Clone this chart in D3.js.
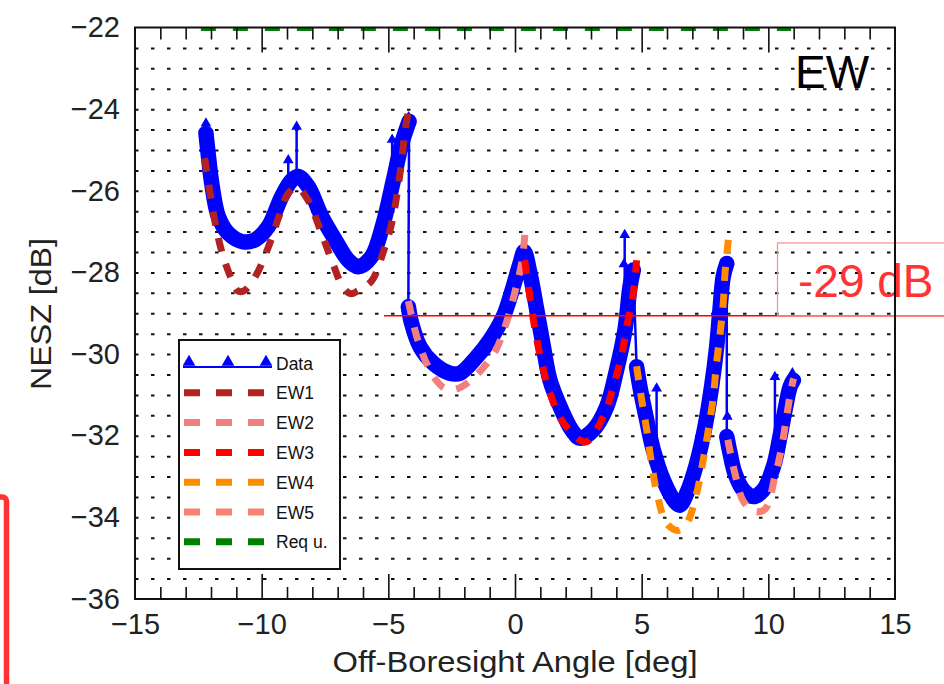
<!DOCTYPE html>
<html>
<head>
<meta charset="utf-8">
<script src="https://cdn.jsdelivr.net/npm/d3@7"></script>
<style>
  body { margin: 0; background: #fff; }
  text { font-family: "Liberation Sans", Arial, Helvetica, sans-serif; }
</style>
</head>
<body>
<div id="chart"></div>
<script>
var width = 944;
var height = 684;

// blue measured data: the thick band, one list per beam
var dataSeg1 = [[-12.2,-24.59],[-12.1,-25.16],[-11.97,-25.82],[-11.71,-26.63],[-11.32,-27.04],[-10.72,-27.25],
  [-10.26,-27.2],[-9.74,-26.88],[-9.21,-26.14],[-8.81,-25.74],[-8.55,-25.65],[-8.16,-25.9],[-7.63,-26.63],
  [-7.1,-27.2],[-6.58,-27.7],[-6.18,-27.86],[-5.66,-27.61],[-5.2,-26.8],[-4.8,-25.74],[-4.47,-24.84],[-4.18,-24.3]];
var dataSeg2 = [[-4.21,-28.84],[-4.08,-29.25],[-3.75,-29.82],[-3.22,-30.23],[-2.57,-30.47],[-2.17,-30.47],
  [-1.51,-30.07],[-0.99,-29.66],[-0.46,-29.08],[-0.07,-28.35],[0.2,-27.78],[0.36,-27.49],[0.59,-28.02],
  [0.86,-28.92],[1.12,-29.82],[1.38,-30.64],[1.78,-31.29],[2.24,-31.86],[2.57,-32.06],[3.09,-31.86],
  [3.62,-31.29],[4.01,-30.39],[4.34,-29.41],[4.54,-28.35],[4.67,-27.94]];
var dataSeg3 = [[4.8,-30.31],[4.93,-30.8],[5.2,-31.62],[5.46,-32.35],[5.86,-33.09],[6.32,-33.62],[6.51,-33.7],
  [6.78,-33.41],[7.17,-32.68],[7.5,-31.78],[7.76,-30.8],[7.96,-29.82],[8.09,-28.92],[8.22,-28.1],[8.36,-27.78]];
var dataSeg4 = [[8.36,-32.02],[8.49,-32.43],[8.68,-32.92],[9.01,-33.33],[9.41,-33.49],[9.8,-33.33],[10.2,-32.76],
  [10.46,-32.02],[10.66,-31.37],[10.86,-30.8],[10.99,-30.64]];
// outlier spikes: angle, foot, top
var dataSpikes = [[-12.2,-24.6,-24.35],[-8.95,-25.85,-25.25],[-8.62,-25.65,-24.43],[-4.85,-25.6,-24.75],
  [4.33,-29.3,-27.08],[5.59,-32.7,-30.84],[10.26,-32.9,-30.56],[10.95,-30.7,-30.47]];
var dataExtraMarks = [[4.3,-27.8],[8.38,-31.53],[-4.2,-24.2]];

// model curves
var ew1 = [[-12.25,-25.2],[-12.0,-26.2],[-11.75,-27.05],[-11.5,-27.65],[-11.2,-28.15],[-10.95,-28.45],[-10.7,-28.45],
  [-10.25,-28.1],[-9.75,-27.4],[-9.3,-26.6],[-8.95,-26.06],[-8.6,-25.92],[-8.2,-26.2],[-7.6,-27.1],[-7.15,-27.85],
  [-6.8,-28.35],[-6.5,-28.52],[-6.2,-28.45],[-5.65,-28.2],[-5.2,-27.5],[-4.85,-26.75],[-4.65,-26.05],
  [-4.47,-25.25],[-4.33,-24.5],[-4.15,-23.85]];
var ew2 = [[-4.21,-28.7],[-3.88,-29.57],[-3.49,-30.23],[-3.1,-30.65],[-2.76,-30.84],[-2.3,-30.85],[-1.58,-30.55],
  [-0.79,-29.94],[-0.33,-29.21],[0.0,-28.47],[0.26,-27.78],[0.39,-27.08]];
var ew3 = [[0.38,-27.7],[0.59,-28.6],[0.79,-29.4],[1.05,-30.2],[1.38,-30.95],[1.84,-31.62],[2.57,-32.11],
  [2.83,-32.15],[3.49,-31.53],[3.88,-30.8],[4.21,-30.02],[4.41,-29.33],[4.67,-28.51],[4.8,-27.7]];
var ew4 = [[4.8,-30.3],[5.0,-31.12],[5.2,-31.86],[5.39,-32.68],[5.59,-33.37],[5.99,-34.15],[6.45,-34.32],
  [6.78,-34.15],[7.17,-33.41],[7.43,-32.6],[7.63,-31.86],[7.83,-31.04],[7.94,-30.31],[8.09,-29.53],
  [8.22,-28.76],[8.29,-28.02],[8.42,-27.2]];
var ew5 = [[8.4,-32.1],[8.68,-32.92],[9.01,-33.6],[9.45,-33.85],[9.87,-33.8],[10.26,-33.0],[10.53,-32.27],
  [10.72,-31.53],[10.92,-30.8],[11.0,-30.6]];
var requ = [[-12.4,-22],[10.9,-22]];

var xTicks = [-15,-10,-5,0,5,10,15];
var yTicks = [-36,-34,-32,-30,-28,-26,-24,-22];
var seriesNames = ["Data","EW1","EW2","EW3","EW4","EW5","Req u."];
var seriesColors = ["#0000ff","#b22222","#f08080","#ff0000","#ff8c00","#fa8072","#008000"];
var limitValue = -29;

// Axis setup
var xScale = d3.scaleLinear().domain([-15, 15]).range([135, 895]);
var yScale = d3.scaleLinear().domain([-36, -22]).range([599, 27.5]);

var svg = d3.select("#chart")
  .append("svg")
  .attr("width", width)
  .attr("height", height);

svg.append("clipPath").attr("id", "plotclip")
  .append("rect")
  .attr("x", 135).attr("y", 27.5)
  .attr("width", 760).attr("height", 571.5);

// dotted horizontal grid every 0.5 dB
svg.append("g")
  .attr("transform", "translate(135,0)")
  .call(d3.axisRight(yScale).tickValues(d3.range(-35.5, -22.4, 0.5)).tickSize(760).tickFormat(""))
  .call(function(g) {
    g.select(".domain").remove();
    g.selectAll("line")
      .attr("stroke", "#111")
      .attr("stroke-width", 2)
      .attr("stroke-dasharray", "3.5,12.5");
  });

var line = d3.line()
  .x(function(d) { return xScale(d[0]); })
  .y(function(d) { return yScale(d[1]); });
var smooth = d3.line()
  .curve(d3.curveCatmullRom)
  .x(function(d) { return xScale(d[0]); })
  .y(function(d) { return yScale(d[1]); });

var plot = svg.append("g").attr("clip-path", "url(#plotclip)");

// requirement at -22 dB
plot.append("path")
  .attr("d", line(requ))
  .attr("fill", "none")
  .attr("stroke", seriesColors[6])
  .attr("stroke-width", 7)
  .attr("stroke-dasharray", "15,17");

// data: thin connecting line then thick band
var segs = [dataSeg1, dataSeg2, dataSeg3, dataSeg4];
plot.append("path")
  .attr("d", line([].concat(dataSeg1, dataSeg2, dataSeg3, dataSeg4)))
  .attr("fill", "none")
  .attr("stroke", seriesColors[0])
  .attr("stroke-width", 2.5);

plot.selectAll(".band")
  .data(segs)
  .enter()
  .append("path")
  .attr("class", "band")
  .attr("d", smooth)
  .attr("fill", "none")
  .attr("stroke", seriesColors[0])
  .attr("stroke-width", 15.5)
  .attr("stroke-linejoin", "round")
  .attr("stroke-linecap", "round");

plot.selectAll(".spike")
  .data(dataSpikes)
  .enter()
  .append("line")
  .attr("class", "spike")
  .attr("x1", function(d) { return xScale(d[0]); })
  .attr("x2", function(d) { return xScale(d[0]); })
  .attr("y1", function(d) { return yScale(d[1]); })
  .attr("y2", function(d) { return yScale(d[2]); })
  .attr("stroke", seriesColors[0])
  .attr("stroke-width", 2.5);

var tri = d3.symbol().type(d3.symbolTriangle).size(50);
var marks = [].concat(dataSeg1, dataSeg2, dataSeg3, dataSeg4,
  dataSpikes.map(function(d) { return [d[0], d[2]]; }), dataExtraMarks);
plot.selectAll(".mark")
  .data(marks)
  .enter()
  .append("path")
  .attr("class", "mark")
  .attr("d", tri)
  .attr("transform", function(d) { return "translate(" + xScale(d[0]) + "," + yScale(d[1]) + ")"; })
  .attr("fill", seriesColors[0]);

// model curves, dashed
var models = [ew1, ew2, ew3, ew4, ew5];
plot.selectAll(".model")
  .data(models)
  .enter()
  .append("path")
  .attr("class", "model")
  .attr("d", smooth)
  .attr("fill", "none")
  .attr("stroke", function(d, i) { return seriesColors[i + 1]; })
  .attr("stroke-width", 7)
  .attr("stroke-dasharray", "14,13");

// -29 dB annotation
svg.append("line")
  .attr("x1", 384).attr("x2", width)
  .attr("y1", yScale(limitValue) + 2.5).attr("y2", yScale(limitValue) + 2.5)
  .attr("stroke", "#ff0000")
  .attr("stroke-width", 1.5);
svg.append("rect")
  .attr("x", 777.5).attr("y", 243)
  .attr("width", 200).attr("height", yScale(limitValue) + 2.5 - 243)
  .attr("fill", "none")
  .attr("stroke", "#ff8a8a")
  .attr("stroke-width", 1.2);
svg.append("text")
  .attr("x", 798).attr("y", 297)
  .attr("font-size", 46)
  .attr("fill", "#ff3333")
  .text(limitValue + " dB");

// red box on the left edge
svg.append("rect")
  .attr("x", -60).attr("y", 497)
  .attr("width", 66.5).attr("height", 300)
  .attr("rx", 4)
  .attr("fill", "none")
  .attr("stroke", "#ff3333")
  .attr("stroke-width", 5.5);

// legend
var legend = svg.append("g");
legend.append("rect")
  .attr("x", 179).attr("y", 340)
  .attr("width", 161).attr("height", 229)
  .attr("fill", "#fff")
  .attr("stroke", "#111")
  .attr("stroke-width", 2);
var rows = legend.selectAll(".row")
  .data(seriesNames)
  .enter()
  .append("g")
  .attr("class", "row")
  .attr("transform", function(d, i) { return "translate(0," + (363 + i * 29.8) + ")"; });
rows.append("line")
  .attr("x1", function(d, i) { return i === 0 ? 183 : 184; })
  .attr("x2", function(d, i) { return i === 0 ? 272 : 264; })
  .attr("y1", function(d, i) { return i === 0 ? 4 : 0; })
  .attr("y2", function(d, i) { return i === 0 ? 4 : 0; })
  .attr("stroke", function(d, i) { return seriesColors[i]; })
  .attr("stroke-width", function(d, i) { return i === 0 ? 2 : 7; })
  .attr("stroke-dasharray", function(d, i) { return i === 0 ? null : "16,16"; });
rows.append("text")
  .attr("x", 276).attr("y", 6.5)
  .attr("font-size", 17.5)
  .attr("fill", "#111")
  .text(function(d) { return d; });
legend.selectAll(".ltri")
  .data([189, 228, 266])
  .enter()
  .append("path")
  .attr("class", "ltri")
  .attr("d", d3.symbol().type(d3.symbolTriangle).size(70))
  .attr("transform", function(d) { return "translate(" + d + ",362)"; })
  .attr("fill", seriesColors[0]);

// frame
svg.append("rect")
  .attr("x", 135).attr("y", 27.5)
  .attr("width", 760).attr("height", 571.5)
  .attr("fill", "none")
  .attr("stroke", "#111")
  .attr("stroke-width", 2);

// ticks, inward, minor every degree, major every 5
function tickStyle(g) {
  g.select(".domain").remove();
  g.selectAll("line").attr("stroke", "#111").attr("stroke-width", 1.6);
}
var minorX = d3.range(-14, 15).filter(function(v) { return v % 5 !== 0; });
var majorX = [-10, -5, 0, 5, 10];
svg.append("g").attr("transform", "translate(0,599)")
  .call(d3.axisBottom(xScale).tickValues(minorX).tickSize(-12).tickFormat("")).call(tickStyle);
svg.append("g").attr("transform", "translate(0,599)")
  .call(d3.axisBottom(xScale).tickValues(majorX).tickSize(-25).tickFormat("")).call(tickStyle);
svg.append("g").attr("transform", "translate(0,27.5)")
  .call(d3.axisTop(xScale).tickValues(minorX).tickSize(-12).tickFormat("")).call(tickStyle);
svg.append("g").attr("transform", "translate(0,27.5)")
  .call(d3.axisTop(xScale).tickValues(majorX).tickSize(-25).tickFormat("")).call(tickStyle);

// tick labels
svg.append("g").attr("transform", "translate(0,599)")
  .call(d3.axisBottom(xScale).tickValues(xTicks).tickSize(0).tickPadding(14).tickFormat(d3.format("d")))
  .call(function(g) {
    g.select(".domain").remove();
    g.selectAll("text").attr("font-size", 29).attr("fill", "#222")
      .style("font-family", '"Liberation Sans", Arial, sans-serif');
  });
svg.append("g").attr("transform", "translate(135,0)")
  .call(d3.axisLeft(yScale).tickValues(yTicks).tickSize(0).tickPadding(15).tickFormat(d3.format("d")))
  .call(function(g) {
    g.select(".domain").remove();
    g.selectAll("text").attr("font-size", 29).attr("fill", "#222")
      .style("font-family", '"Liberation Sans", Arial, sans-serif');
  });

// axis titles
svg.append("text")
  .attr("x", 515).attr("y", 672)
  .attr("text-anchor", "middle")
  .attr("font-size", 30)
  .attr("fill", "#222")
  .attr("textLength", 365)
  .attr("lengthAdjust", "spacingAndGlyphs")
  .text("Off-Boresight Angle [deg]");
svg.append("text")
  .attr("transform", "translate(51,314) rotate(-90)")
  .attr("text-anchor", "middle")
  .attr("font-size", 30)
  .attr("fill", "#222")
  .attr("textLength", 152)
  .attr("lengthAdjust", "spacingAndGlyphs")
  .text("NESZ [dB]");

// panel label
svg.append("text")
  .attr("x", 795).attr("y", 88)
  .attr("font-size", 46)
  .attr("fill", "#000")
  .text("EW");
</script>
</body>
</html>
